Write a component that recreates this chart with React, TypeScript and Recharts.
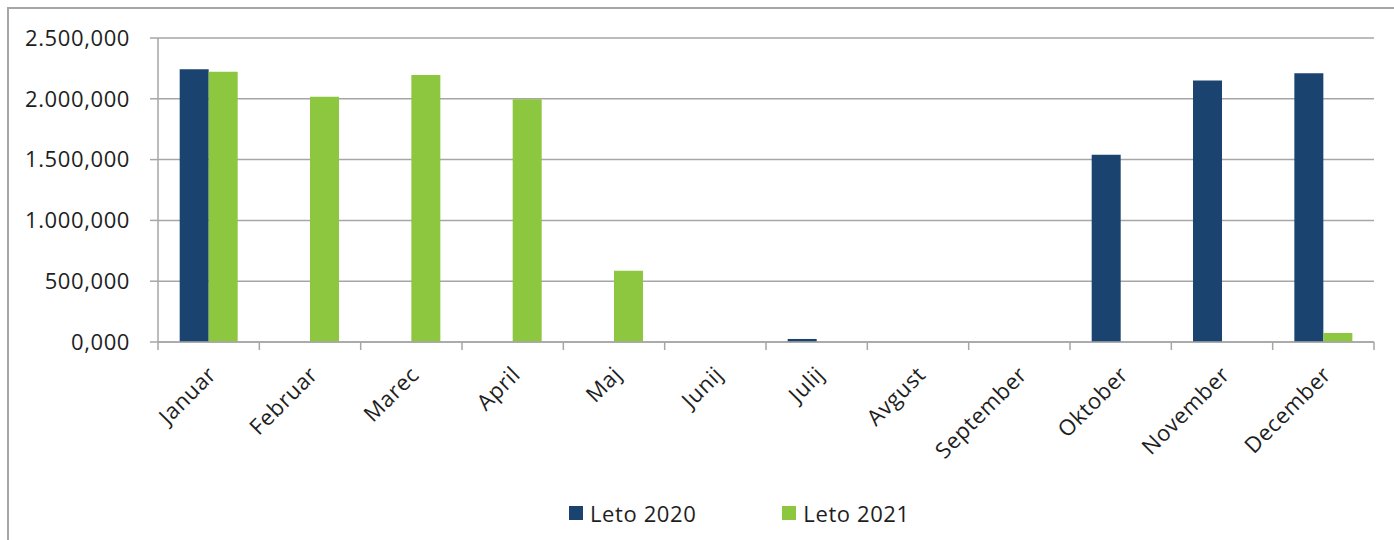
import { BarChart, Bar, XAxis, YAxis, CartesianGrid, Legend } from 'recharts'

const MONTHS = [
  'Januar', 'Februar', 'Marec', 'April', 'Maj', 'Junij',
  'Julij', 'Avgust', 'September', 'Oktober', 'November', 'December',
]
const LETO_2020 = [2244, 0, 0, 0, 0, 0, 25, 0, 0, 1540, 2151, 2211]
const LETO_2021 = [2222, 2016, 2195, 1997, 586, 0, 0, 0, 0, 0, 0, 74]
const Y_TICKS = [0, 500, 1000, 1500, 2000, 2500]

const SERIES = [
  { key: 'leto2020', name: 'Leto 2020', color: '#1A436F' },
  { key: 'leto2021', name: 'Leto 2021', color: '#8DC63F' },
]

const data = MONTHS.map((month, i) => ({
  month,
  leto2020: LETO_2020[i],
  leto2021: LETO_2021[i],
}))

const FONT = '"Open Sans", "Noto Sans", sans-serif'
const TEXT = '#1e1e1e'
const LINE = '#a6a6a6'
const FONT_SIZE = 22
const SPACING = 0.6

// 2500 -> "2.500,000"
function formatValue(v: number) {
  const [int, dec] = v.toFixed(3).split('.')
  return int.replace(/\B(?=(\d{3})+(?!\d))/g, '.') + ',' + dec
}

function MonthTick(props: any) {
  const { x, y, payload, index, visibleTicksCount } = props
  const half = payload.offset ?? 0
  const axisY = y - 10
  const tx = x + 9
  const ty = y + 24
  return (
    <g>
      <line x1={x - half} x2={x - half} y1={axisY} y2={axisY + 8} stroke={LINE} strokeWidth={1.5} />
      {index === visibleTicksCount - 1 && (
        <line x1={x + half} x2={x + half} y1={axisY} y2={axisY + 8} stroke={LINE} strokeWidth={1.5} />
      )}
      <text
        x={tx}
        y={ty}
        textAnchor="end"
        transform={`rotate(-45 ${tx} ${ty})`}
        fill={TEXT}
        fontSize={FONT_SIZE}
        fontFamily={FONT}
        letterSpacing={SPACING}
      >
        {payload.value}
      </text>
    </g>
  )
}

function LegendContent() {
  return (
    <div
      style={{
        display: 'flex',
        paddingLeft: 569,
        alignItems: 'center',
        fontFamily: FONT,
        fontSize: FONT_SIZE,
        letterSpacing: SPACING,
        color: TEXT,
      }}
    >
      {SERIES.map((s, i) => (
        <div key={s.key} style={{ display: 'flex', alignItems: 'center', marginLeft: i === 0 ? 0 : 86 }}>
          <span style={{ width: 14, height: 14, background: s.color, display: 'inline-block', marginRight: 7 }} />
          <span>{s.name}</span>
        </div>
      ))}
    </div>
  )
}

export default function App() {
  return (
    <div style={{ position: 'absolute', left: 0, top: 0, width: 1394, height: 540, background: '#fff', overflow: 'hidden' }}>
      <div
        style={{
          position: 'absolute',
          left: 7,
          top: 7,
          width: 1400,
          height: 600,
          borderLeft: `2px solid ${LINE}`,
          borderTop: `2px solid ${LINE}`,
        }}
      />
      <div style={{ position: 'absolute', left: 0, top: 0 }}>
        <BarChart
          width={1394}
          height={540}
          data={data}
          margin={{ top: 38, right: 20, bottom: 2, left: 0 }}
          barCategoryGap="21.4%"
          barGap={0}
        >
          <CartesianGrid vertical={false} stroke={LINE} strokeWidth={1.5} />
          <XAxis
            dataKey="month"
            height={156}
            axisLine={{ stroke: LINE, strokeWidth: 1.5 }}
            tickLine={false}
            tickSize={8}
            tickMargin={2}
            interval={0}
            tick={<MonthTick />}
          />
          <YAxis
            width={158}
            domain={[0, 2500]}
            ticks={Y_TICKS}
            tickFormatter={formatValue}
            axisLine={{ stroke: LINE, strokeWidth: 1.5 }}
            tickLine={{ stroke: LINE, strokeWidth: 1.5 }}
            tickSize={8}
            tickMargin={20}
            tick={{ fill: TEXT, fontSize: FONT_SIZE, fontFamily: FONT, letterSpacing: SPACING }}
          />
          <Legend verticalAlign="bottom" height={40} content={<LegendContent />} />
          {SERIES.map((s) => (
            <Bar key={s.key} dataKey={s.key} name={s.name} fill={s.color} isAnimationActive={false} />
          ))}
        </BarChart>
      </div>
    </div>
  )
}
